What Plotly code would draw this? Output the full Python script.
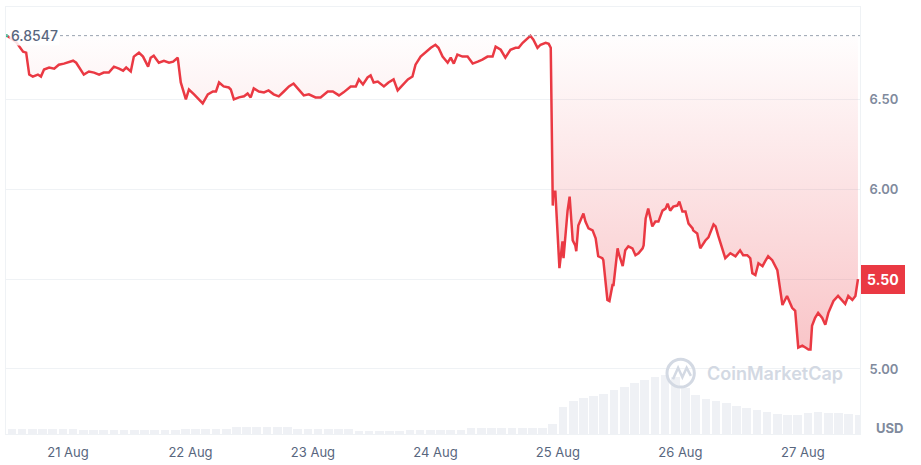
import pandas as pd
import plotly.graph_objects as go

# ── Data ──────────────────────────────────────────────────────────────────────
START = pd.Timestamp("2024-08-20 12:00")
OPEN_PRICE = 6.8547

# hours since START for each price sample
price_hours = [
    0, 1.8, 3.2, 3.8, 4.4, 5.1, 6.1, 6.7, 7.3, 8.3,
    9.3, 10.2, 11.2, 12.2, 13.0, 13.6, 14.5, 15.1, 16.1, 17.1,
    18.1, 19.0, 20.0, 21.0, 22.0, 22.8, 23.4, 24.3, 24.9, 25.9,
    26.7, 27.7, 28.2, 28.8, 29.8, 30.8, 31.8, 32.6, 33.5, 34.1,
    35.1, 35.7, 36.7, 37.6, 38.4, 39.4, 40.4, 41.0, 41.6, 42.5,
    43.5, 43.9, 44.5, 45.5, 46.5, 47.2, 47.8, 48.4, 49.4, 50.4,
    51.3, 52.3, 53.3, 54.3, 55.3, 56.2, 57.2, 58.2, 59.2, 60.5,
    61.5, 62.9, 63.9, 65.1, 66.0, 67.4, 68.4, 69.0, 69.8, 70.7,
    71.3, 71.9, 72.7, 73.9, 74.8, 75.8, 76.6, 77.6, 78.6, 79.5,
    80.1, 81.1, 82.1, 83.1, 84.0, 84.6, 85.4, 86.4, 87.0, 87.6,
    88.3, 89.3, 90.3, 91.3, 92.3, 93.2, 94.2, 95.2, 95.8, 96.8,
    97.7, 98.7, 99.7, 100.3, 101.1, 102.1, 102.6, 103.2, 104.0, 104.6,
    105.6, 106.2, 106.6, 107.0, 107.1, 107.5, 107.9, 108.3, 108.9, 109.1,
    109.9, 110.3, 110.7, 110.9, 111.4, 111.6, 112.0, 112.4, 113.0, 113.4,
    114.0, 114.8, 115.4, 115.9, 116.7, 116.9, 117.3, 117.7, 118.1, 118.7,
    118.9, 119.7, 119.9, 120.7, 121.2, 121.8, 122.6, 123.2, 123.8, 124.6,
    124.8, 125.2, 125.7, 126.5, 127.1, 127.7, 128.5, 129.1, 129.5, 130.0,
    130.6, 131.4, 131.8, 132.4, 133.0, 133.6, 134.4, 134.5, 135.3, 135.9,
    136.9, 137.5, 138.5, 138.9, 139.4, 140.2, 140.8, 141.8, 142.8, 143.7,
    144.3, 145.1, 145.7, 146.1, 146.7, 147.3, 148.1, 148.6, 149.2, 150.0,
    151.0, 152.0, 152.9, 153.9, 154.5, 155.1, 155.9, 156.5, 157.1, 157.5,
    157.8, 158.4, 159.0, 159.8, 160.4, 161.0, 162.0, 162.9, 163.7, 164.3,
    164.9, 165.7, 166.3, 166.8,
]

prices = [
    6.855, 6.820, 6.765, 6.760, 6.638, 6.627, 6.638, 6.627, 6.666, 6.677,
    6.671, 6.693, 6.699, 6.710, 6.715, 6.704, 6.666, 6.638, 6.655, 6.649,
    6.638, 6.649, 6.649, 6.682, 6.671, 6.660, 6.677, 6.655, 6.738, 6.760,
    6.738, 6.682, 6.732, 6.743, 6.704, 6.715, 6.704, 6.710, 6.732, 6.594,
    6.500, 6.555, 6.528, 6.500, 6.478, 6.528, 6.544, 6.544, 6.594, 6.572,
    6.566, 6.555, 6.500, 6.511, 6.517, 6.533, 6.511, 6.561, 6.544, 6.539,
    6.550, 6.528, 6.517, 6.544, 6.572, 6.588, 6.555, 6.522, 6.528, 6.511,
    6.511, 6.544, 6.544, 6.522, 6.539, 6.572, 6.572, 6.611, 6.583, 6.622,
    6.633, 6.594, 6.599, 6.572, 6.594, 6.611, 6.550, 6.583, 6.611, 6.627,
    6.693, 6.738, 6.765, 6.787, 6.804, 6.787, 6.738, 6.704, 6.732, 6.699,
    6.749, 6.738, 6.738, 6.699, 6.710, 6.721, 6.738, 6.738, 6.793, 6.776,
    6.732, 6.776, 6.787, 6.787, 6.815, 6.843, 6.854, 6.832, 6.787, 6.804,
    6.815, 6.809, 6.787, 5.909, 5.986, 5.986, 5.771, 5.561, 5.710, 5.616,
    5.881, 5.959, 5.798, 5.715, 5.688, 5.655, 5.798, 5.826, 5.865, 5.820,
    5.782, 5.771, 5.727, 5.627, 5.616, 5.605, 5.489, 5.384, 5.378, 5.467,
    5.467, 5.671, 5.644, 5.572, 5.660, 5.682, 5.671, 5.633, 5.644, 5.671,
    5.688, 5.837, 5.892, 5.793, 5.820, 5.820, 5.881, 5.892, 5.920, 5.881,
    5.903, 5.909, 5.931, 5.876, 5.876, 5.809, 5.782, 5.771, 5.754, 5.671,
    5.715, 5.732, 5.804, 5.793, 5.743, 5.671, 5.616, 5.644, 5.627, 5.660,
    5.633, 5.633, 5.616, 5.533, 5.522, 5.588, 5.572, 5.599, 5.627, 5.605,
    5.550, 5.356, 5.406, 5.340, 5.323, 5.119, 5.130, 5.119, 5.108, 5.108,
    5.240, 5.284, 5.312, 5.284, 5.246, 5.312, 5.378, 5.406, 5.378, 5.362,
    5.406, 5.384, 5.406, 5.500,
]

# 2-hour volume buckets (USD millions, rough)
volume = [
    2.5, 2.5, 2.5, 2.5, 2.5, 2.5, 2.5, 2.0, 2.0, 2.0,
    2.0, 2.0, 2.0, 2.0, 2.0, 2.0, 2.0, 2.5, 2.5, 2.5,
    2.5, 2.5, 3.5, 3.5, 3.5, 3.5, 3.5, 3.5, 2.5, 2.5,
    2.5, 2.5, 2.5, 2.5, 1.5, 1.5, 1.5, 1.5, 1.5, 2.0,
    2.0, 2.0, 2.0, 2.0, 2.0, 3.0, 3.0, 3.0, 3.0, 3.0,
    3.0, 3.0, 3.0, 5.0, 13.5, 16.5, 18.0, 19.0, 20.0, 22.0,
    23.5, 25.5, 27.0, 28.5, 29.5, 28.5, 23.0, 19.5, 17.5, 16.5,
    15.5, 14.0, 13.0, 12.0, 11.0, 10.0, 9.5, 9.5, 10.5, 11.0,
    10.5, 10.5, 10.0, 9.5,
]

y_ticks = [5.0, 5.5, 6.0, 6.5]
y_tick_text = ["5.00", "", "6.00", "6.50"]   # 5.50 sits under the last-price badge
x_ticks = pd.date_range("2024-08-21", "2024-08-27", freq="D")

times = [START + pd.Timedelta(hours=h) for h in price_hours]
vol_times = [START + pd.Timedelta(hours=2 * i + 1) for i in range(len(volume))]

RED = "#ea3943"
GREY = "#808a9d"
WM = "#d3d9e3"

fig = go.Figure()

fig.add_trace(go.Bar(
    x=vol_times, y=volume, yaxis="y2",
    width=2 * 3600 * 1000 * 0.85,
    marker=dict(color="#eff1f5", line_width=0),
    hoverinfo="skip",
))

# open price baseline for the fill
fig.add_trace(go.Scatter(
    x=[times[0], times[-1]], y=[OPEN_PRICE, OPEN_PRICE],
    mode="lines", line=dict(width=0, color="rgba(0,0,0,0)"),
    hoverinfo="skip",
))

fig.add_trace(go.Scatter(
    x=times, y=prices, mode="lines",
    line=dict(color=RED, width=2.5),
    fill="tonexty",
    fillgradient=dict(
        type="vertical",
        colorscale=[[0, "rgba(234,57,67,0.32)"], [1, "rgba(234,57,67,0.0)"]],
        start=4.95, stop=6.9,
    ),
))

fig.add_hline(y=OPEN_PRICE, line=dict(color="#9aa3b1", width=1, dash="dot"))

# small green dot marking the open
fig.add_trace(go.Scatter(
    x=[times[0]], y=[OPEN_PRICE], mode="markers",
    marker=dict(color="#16c784", size=3), hoverinfo="skip",
))

fig.add_annotation(
    xref="paper", x=0, xanchor="left", xshift=3, y=OPEN_PRICE, yref="y",
    text=f"{OPEN_PRICE:.4f}", showarrow=False,
    font=dict(family="Inter", size=14, color="#58667e", weight=500),
    bgcolor="rgba(255,255,255,0.85)", borderpad=1,
)

fig.add_annotation(
    xref="paper", x=1, xanchor="left", xshift=1, y=prices[-1], yref="y",
    text=f"{prices[-1]:.2f}", showarrow=False,
    font=dict(family="Inter", size=14, color="white", weight=700),
    bgcolor=RED, bordercolor=RED, borderpad=5,
)

fig.add_annotation(
    xref="paper", yref="paper", x=1, xanchor="left", xshift=14, y=0, yanchor="middle", yshift=6,
    text="USD", showarrow=False,
    font=dict(family="Inter", size=13, color=GREY, weight=700),
)

# CoinMarketCap watermark (ring + wave, then wordmark)
fig.add_shape(type="circle", xref="paper", yref="paper",
              x0=0.774, x1=0.806, y0=0.110, y1=0.175,
              line=dict(color=WM, width=3))
fig.add_shape(type="path", xref="paper", yref="paper",
              path="M 0.781,0.128 L 0.787,0.155 L 0.792,0.133 L 0.797,0.155 L 0.802,0.136",
              line=dict(color=WM, width=2.5))
fig.add_annotation(
    xref="paper", yref="paper", x=0.819, xanchor="left", y=0.142, yanchor="middle",
    text="CoinMarketCap", showarrow=False,
    font=dict(family="Inter", size=18, color=WM, weight=600),
)

fig.update_layout(
    width=921, height=465,
    margin=dict(l=5, r=61, t=7, b=28),
    paper_bgcolor="white", plot_bgcolor="white",
    showlegend=False, bargap=0,
    xaxis=dict(
        range=[START - pd.Timedelta(hours=0.15), START + pd.Timedelta(hours=167.2)],
        tickvals=x_ticks, tickformat="%-d %b",
        showgrid=False, ticks="", ticklabelstandoff=6,
        tickfont=dict(family="Inter", size=13, color="#58667e"),
        showline=True, mirror=True, linecolor="#eff2f5", linewidth=1,
        zeroline=False,
    ),
    yaxis=dict(
        side="right", range=[4.638, 7.014],
        tickvals=y_ticks, ticktext=y_tick_text,
        gridcolor="#eff2f5", gridwidth=1, ticks="", ticklabelstandoff=6,
        tickfont=dict(family="Inter", size=13, color=GREY, weight=600),
        showline=True, mirror=True, linecolor="#eff2f5", linewidth=1,
        zeroline=False,
    ),
    yaxis2=dict(overlaying="y", range=[0, 215], visible=False),
)

fig.write_html("out.html", config={"displayModeBar": False},
               post_script="document.body.style.margin='0';")
